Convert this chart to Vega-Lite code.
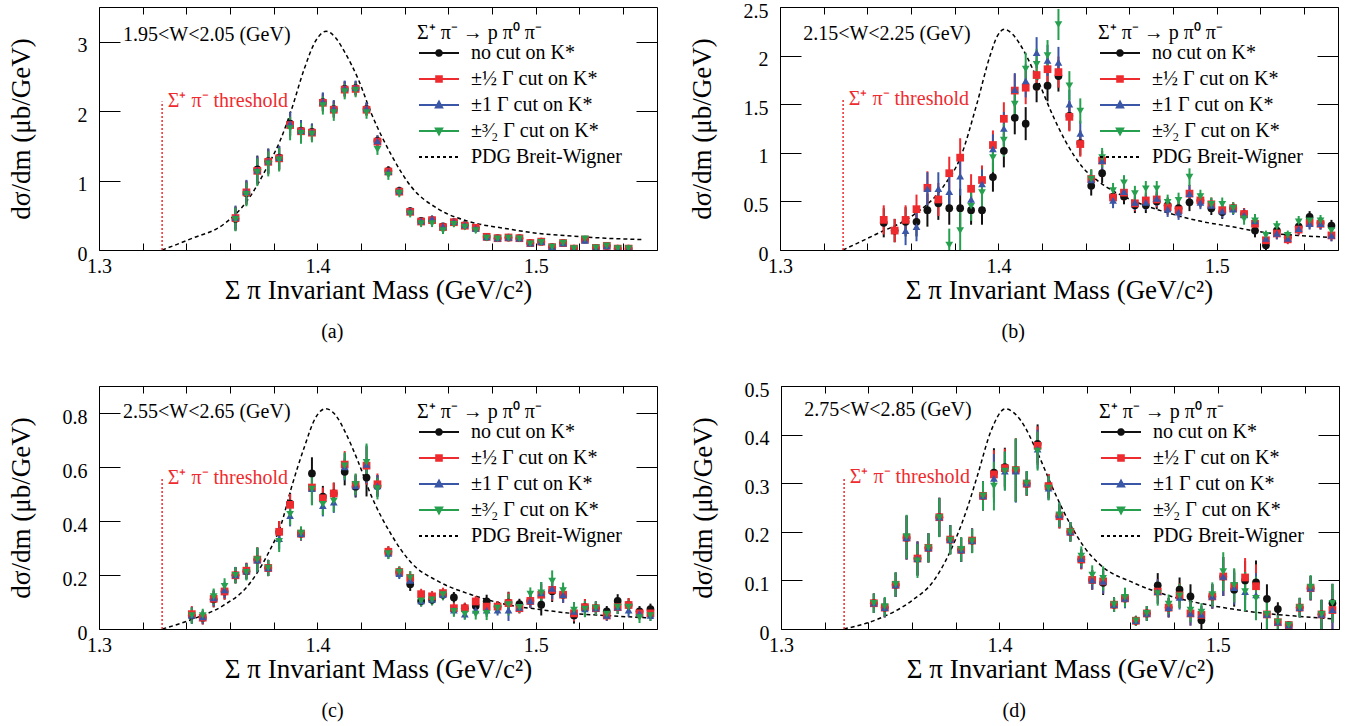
{
  "$schema": "https://vega.github.io/schema/vega-lite/v6.json",
  "background": "white",
  "padding": {"left": 6, "top": 0, "right": 5, "bottom": 5},
  "config": {
    "font": "Liberation Serif",
    "view": {"stroke": "#000", "strokeWidth": 1},
    "axis": {
      "grid": false, "domain": false,
      "labelFont": "Liberation Serif", "titleFont": "Liberation Serif",
      "labelFontSize": 20, "titleFontSize": 27, "titleFontWeight": "normal",
      "labelColor": "#000", "titleColor": "#000", "tickColor": "#000", "tickWidth": 1,
      "labelFlush": false, "labelOverlap": false
    },
    "legend": {
      "orient": "none", "legendX": 318, "legendY": 16, "padding": 0,
      "titleFont": "Liberation Serif", "labelFont": "Liberation Serif",
      "titleFontSize": 20, "labelFontSize": 20, "titleFontWeight": "normal",
      "titleColor": "#000", "labelColor": "#000",
      "symbolSize": 256, "symbolStrokeWidth": 2, "labelOffset": 34, "rowPadding": 6, "titlePadding": 0
    },
    "title": {"font": "Liberation Serif", "fontSize": 20, "fontWeight": "normal", "color": "#000"}
  },
  "datasets": {
    "pts": [
      {"p":"a","m":1.3625,"n":0.45,"h":0.46,"o":0.47,"t":0.44,"e":0.17},
      {"p":"a","m":1.3675,"n":0.82,"h":0.83,"o":0.84,"t":0.80,"e":0.17},
      {"p":"a","m":1.3725,"n":1.16,"h":1.14,"o":1.15,"t":1.12,"e":0.2},
      {"p":"a","m":1.3775,"n":1.28,"h":1.27,"o":1.28,"t":1.24,"e":0.18},
      {"p":"a","m":1.3825,"n":1.33,"h":1.32,"o":1.33,"t":1.30,"e":0.17},
      {"p":"a","m":1.3875,"n":1.82,"h":1.80,"o":1.82,"t":1.75,"e":0.17},
      {"p":"a","m":1.3925,"n":1.72,"h":1.71,"o":1.72,"t":1.68,"e":0.15},
      {"p":"a","m":1.3975,"n":1.70,"h":1.69,"o":1.70,"t":1.67,"e":0.12},
      {"p":"a","m":1.4025,"n":2.13,"h":2.12,"o":2.14,"t":2.08,"e":0.13},
      {"p":"a","m":1.4075,"n":2.03,"h":2.02,"o":2.04,"t":1.98,"e":0.12},
      {"p":"a","m":1.4125,"n":2.32,"h":2.31,"o":2.33,"t":2.28,"e":0.11},
      {"p":"a","m":1.4175,"n":2.33,"h":2.32,"o":2.34,"t":2.30,"e":0.1},
      {"p":"a","m":1.4225,"n":2.03,"h":2.02,"o":2.04,"t":1.98,"e":0.09},
      {"p":"a","m":1.4275,"n":1.57,"h":1.56,"o":1.57,"t":1.45,"e":0.08},
      {"p":"a","m":1.4325,"n":1.14,"h":1.13,"o":1.13,"t":1.08,"e":0.07},
      {"p":"a","m":1.4375,"n":0.85,"h":0.84,"o":0.85,"t":0.82,"e":0.06},
      {"p":"a","m":1.4425,"n":0.56,"h":0.55,"o":0.56,"t":0.52,"e":0.05},
      {"p":"a","m":1.4475,"n":0.42,"h":0.41,"o":0.42,"t":0.38,"e":0.05},
      {"p":"a","m":1.4525,"n":0.43,"h":0.43,"o":0.45,"t":0.38,"e":0.05},
      {"p":"a","m":1.4575,"n":0.34,"h":0.33,"o":0.34,"t":0.28,"e":0.05},
      {"p":"a","m":1.4625,"n":0.40,"h":0.40,"o":0.41,"t":0.37,"e":0.04},
      {"p":"a","m":1.4675,"n":0.36,"h":0.35,"o":0.36,"t":0.33,"e":0.04},
      {"p":"a","m":1.4725,"n":0.32,"h":0.32,"o":0.31,"t":0.28,"e":0.04},
      {"p":"a","m":1.4775,"n":0.19,"h":0.19,"o":0.19,"t":0.17,"e":0.03},
      {"p":"a","m":1.4825,"n":0.17,"h":0.17,"o":0.17,"t":0.16,"e":0.03},
      {"p":"a","m":1.4875,"n":0.18,"h":0.18,"o":0.18,"t":0.17,"e":0.03},
      {"p":"a","m":1.4925,"n":0.17,"h":0.17,"o":0.17,"t":0.16,"e":0.03},
      {"p":"a","m":1.4975,"n":0.10,"h":0.10,"o":0.10,"t":0.09,"e":0.03},
      {"p":"a","m":1.5025,"n":0.12,"h":0.12,"o":0.12,"t":0.11,"e":0.03},
      {"p":"a","m":1.5075,"n":0.04,"h":0.04,"o":0.05,"t":0.04,"e":0.02},
      {"p":"a","m":1.5125,"n":0.10,"h":0.10,"o":0.10,"t":0.10,"e":0.02},
      {"p":"a","m":1.5175,"n":0.02,"h":0.02,"o":0.02,"t":0.02,"e":0.02},
      {"p":"a","m":1.5225,"n":0.15,"h":0.15,"o":0.14,"t":0.16,"e":0.03},
      {"p":"a","m":1.5275,"n":0.03,"h":0.03,"o":0.03,"t":0.03,"e":0.02},
      {"p":"a","m":1.5325,"n":0.06,"h":0.06,"o":0.06,"t":0.06,"e":0.02},
      {"p":"a","m":1.5375,"n":0.02,"h":0.02,"o":0.02,"t":0.02,"e":0.02},
      {"p":"a","m":1.5425,"n":0.02,"h":0.02,"o":0.02,"t":0.02,"e":0.02},

      {"p":"b","m":1.3475,"n":0.28,"h":0.31,"o":null,"t":null,"e":0.15},
      {"p":"b","m":1.3525,"n":0.20,"h":0.20,"o":null,"t":null,"e":0.12},
      {"p":"b","m":1.3575,"n":0.29,"h":0.31,"o":0.20,"t":null,"e":0.15},
      {"p":"b","m":1.3625,"n":0.29,"h":0.42,"o":0.24,"t":null,"e":0.15},
      {"p":"b","m":1.3675,"n":0.41,"h":0.64,"o":0.63,"t":null,"e":0.17},
      {"p":"b","m":1.3725,"n":0.48,"h":0.52,"o":0.63,"t":null,"e":0.17},
      {"p":"b","m":1.3775,"n":0.43,"h":0.79,"o":0.60,"t":0.05,"e":0.17},
      {"p":"b","m":1.3825,"n":0.43,"h":0.95,"o":0.76,"t":0.20,"e":0.2},
      {"p":"b","m":1.3875,"n":0.41,"h":0.63,"o":0.52,"t":0.45,"e":0.15},
      {"p":"b","m":1.3925,"n":0.41,"h":0.72,"o":0.68,"t":0.59,"e":0.15},
      {"p":"b","m":1.3975,"n":0.75,"h":1.08,"o":1.04,"t":0.95,"e":0.15},
      {"p":"b","m":1.4025,"n":1.02,"h":1.35,"o":1.25,"t":1.13,"e":0.17},
      {"p":"b","m":1.4075,"n":1.36,"h":1.64,"o":1.65,"t":1.50,"e":0.17},
      {"p":"b","m":1.4125,"n":1.30,"h":1.67,"o":1.74,"t":1.86,"e":0.17},
      {"p":"b","m":1.4175,"n":1.68,"h":1.80,"o":2.03,"t":1.91,"e":0.16},
      {"p":"b","m":1.4225,"n":1.69,"h":1.86,"o":1.95,"t":2.00,"e":0.16},
      {"p":"b","m":1.4275,"n":1.79,"h":1.83,"o":1.93,"t":2.32,"e":0.16},
      {"p":"b","m":1.4325,"n":1.38,"h":1.37,"o":1.50,"t":1.69,"e":0.15},
      {"p":"b","m":1.4375,"n":1.10,"h":1.09,"o":1.20,"t":1.43,"e":0.13},
      {"p":"b","m":1.4425,"n":0.66,"h":0.73,"o":0.72,"t":0.73,"e":0.1},
      {"p":"b","m":1.4475,"n":0.79,"h":0.92,"o":0.92,"t":0.95,"e":0.1},
      {"p":"b","m":1.4525,"n":0.55,"h":0.54,"o":0.51,"t":0.61,"e":0.08},
      {"p":"b","m":1.4575,"n":0.55,"h":0.59,"o":0.60,"t":0.69,"e":0.08},
      {"p":"b","m":1.4625,"n":0.46,"h":0.48,"o":0.49,"t":0.58,"e":0.08},
      {"p":"b","m":1.4675,"n":0.46,"h":0.51,"o":0.49,"t":0.63,"e":0.08},
      {"p":"b","m":1.4725,"n":0.50,"h":0.52,"o":0.53,"t":0.63,"e":0.08},
      {"p":"b","m":1.4775,"n":0.46,"h":0.44,"o":0.42,"t":0.49,"e":0.08},
      {"p":"b","m":1.4825,"n":0.43,"h":0.41,"o":0.39,"t":0.51,"e":0.08},
      {"p":"b","m":1.4875,"n":0.49,"h":0.58,"o":0.58,"t":0.75,"e":0.09},
      {"p":"b","m":1.4925,"n":0.51,"h":0.51,"o":0.49,"t":0.55,"e":0.07},
      {"p":"b","m":1.4975,"n":0.43,"h":0.47,"o":0.46,"t":0.47,"e":0.07},
      {"p":"b","m":1.5025,"n":0.39,"h":0.41,"o":0.40,"t":0.47,"e":0.07},
      {"p":"b","m":1.5075,"n":0.43,"h":0.43,"o":0.42,"t":0.43,"e":0.06},
      {"p":"b","m":1.5125,"n":0.37,"h":0.37,"o":0.36,"t":0.32,"e":0.06},
      {"p":"b","m":1.5175,"n":0.20,"h":0.27,"o":0.30,"t":0.30,"e":0.07},
      {"p":"b","m":1.5225,"n":0.05,"h":0.10,"o":0.12,"t":0.15,"e":0.05},
      {"p":"b","m":1.5275,"n":0.20,"h":0.17,"o":0.17,"t":0.24,"e":0.06},
      {"p":"b","m":1.5325,"n":0.13,"h":0.11,"o":0.12,"t":0.15,"e":0.05},
      {"p":"b","m":1.5375,"n":0.24,"h":0.21,"o":0.22,"t":0.29,"e":0.06},
      {"p":"b","m":1.5425,"n":0.34,"h":0.28,"o":0.27,"t":0.30,"e":0.06},
      {"p":"b","m":1.5475,"n":0.28,"h":0.27,"o":0.27,"t":0.30,"e":0.06},
      {"p":"b","m":1.5525,"n":0.25,"h":0.15,"o":0.15,"t":0.20,"e":0.06},

      {"p":"c","m":1.3425,"n":0.050,"h":0.055,"o":0.050,"t":0.050,"e":0.03},
      {"p":"c","m":1.3475,"n":0.042,"h":0.042,"o":0.045,"t":0.050,"e":0.025},
      {"p":"c","m":1.3525,"n":0.110,"h":0.112,"o":0.115,"t":0.120,"e":0.03},
      {"p":"c","m":1.3575,"n":0.139,"h":0.139,"o":0.145,"t":0.158,"e":0.03},
      {"p":"c","m":1.3625,"n":0.199,"h":0.199,"o":0.200,"t":0.199,"e":0.03},
      {"p":"c","m":1.3675,"n":0.214,"h":0.216,"o":0.214,"t":0.210,"e":0.03},
      {"p":"c","m":1.3725,"n":0.257,"h":0.257,"o":0.255,"t":0.257,"e":0.045},
      {"p":"c","m":1.3775,"n":0.226,"h":0.226,"o":0.226,"t":0.226,"e":0.03},
      {"p":"c","m":1.3825,"n":0.360,"h":0.360,"o":0.335,"t":0.325,"e":0.04},
      {"p":"c","m":1.3875,"n":0.464,"h":0.460,"o":0.420,"t":0.425,"e":0.04},
      {"p":"c","m":1.3925,"n":0.353,"h":0.353,"o":0.353,"t":0.355,"e":0.025},
      {"p":"c","m":1.3975,"n":0.576,"h":0.524,"o":0.520,"t":0.518,"e":0.06},
      {"p":"c","m":1.4025,"n":0.490,"h":0.484,"o":0.457,"t":0.462,"e":0.04},
      {"p":"c","m":1.4075,"n":0.502,"h":0.502,"o":0.470,"t":0.474,"e":0.04},
      {"p":"c","m":1.4125,"n":0.582,"h":0.609,"o":0.600,"t":0.604,"e":0.05},
      {"p":"c","m":1.4175,"n":0.527,"h":0.534,"o":0.530,"t":0.536,"e":0.04},
      {"p":"c","m":1.4225,"n":0.561,"h":0.605,"o":0.610,"t":0.617,"e":0.07},
      {"p":"c","m":1.4275,"n":0.530,"h":0.536,"o":0.530,"t":0.520,"e":0.04},
      {"p":"c","m":1.4325,"n":0.286,"h":0.286,"o":0.280,"t":0.279,"e":0.02},
      {"p":"c","m":1.4375,"n":0.211,"h":0.211,"o":0.205,"t":0.211,"e":0.02},
      {"p":"c","m":1.4425,"n":0.166,"h":0.189,"o":0.180,"t":0.189,"e":0.025},
      {"p":"c","m":1.4475,"n":0.104,"h":0.129,"o":0.104,"t":0.104,"e":0.02},
      {"p":"c","m":1.4525,"n":0.108,"h":0.121,"o":0.110,"t":0.108,"e":0.02},
      {"p":"c","m":1.4575,"n":0.127,"h":0.133,"o":0.127,"t":0.127,"e":0.02},
      {"p":"c","m":1.4625,"n":0.117,"h":0.077,"o":0.070,"t":0.065,"e":0.02},
      {"p":"c","m":1.4675,"n":0.077,"h":0.077,"o":0.055,"t":0.055,"e":0.02},
      {"p":"c","m":1.4725,"n":0.085,"h":0.102,"o":0.070,"t":0.055,"e":0.02},
      {"p":"c","m":1.4775,"n":0.102,"h":0.083,"o":0.070,"t":0.058,"e":0.025},
      {"p":"c","m":1.4825,"n":0.083,"h":0.083,"o":0.070,"t":0.077,"e":0.02},
      {"p":"c","m":1.4875,"n":0.098,"h":0.096,"o":0.070,"t":0.090,"e":0.04},
      {"p":"c","m":1.4925,"n":0.092,"h":0.077,"o":0.080,"t":0.080,"e":0.02},
      {"p":"c","m":1.4975,"n":0.104,"h":0.104,"o":0.104,"t":0.129,"e":0.025},
      {"p":"c","m":1.5025,"n":0.090,"h":0.127,"o":0.134,"t":0.134,"e":0.04},
      {"p":"c","m":1.5075,"n":0.140,"h":0.145,"o":0.150,"t":0.177,"e":0.04},
      {"p":"c","m":1.5125,"n":0.127,"h":0.127,"o":0.127,"t":0.142,"e":0.03},
      {"p":"c","m":1.5175,"n":0.050,"h":0.058,"o":0.065,"t":0.070,"e":0.03},
      {"p":"c","m":1.5225,"n":0.081,"h":0.081,"o":0.074,"t":0.074,"e":0.03},
      {"p":"c","m":1.5275,"n":0.077,"h":0.077,"o":0.077,"t":0.077,"e":0.025},
      {"p":"c","m":1.5325,"n":0.065,"h":0.050,"o":0.050,"t":0.055,"e":0.02},
      {"p":"c","m":1.5375,"n":0.104,"h":0.081,"o":0.081,"t":0.081,"e":0.025},
      {"p":"c","m":1.5425,"n":0.089,"h":0.089,"o":0.070,"t":0.081,"e":0.025},
      {"p":"c","m":1.5475,"n":0.065,"h":0.058,"o":0.058,"t":0.042,"e":0.02},
      {"p":"c","m":1.5525,"n":0.074,"h":0.058,"o":0.050,"t":0.050,"e":0.02},

      {"p":"d","m":1.3425,"n":0.053,"h":0.053,"o":0.053,"t":0.053,"e":0.02},
      {"p":"d","m":1.3475,"n":0.044,"h":0.044,"o":0.044,"t":0.046,"e":0.02},
      {"p":"d","m":1.3525,"n":0.091,"h":0.091,"o":0.091,"t":0.092,"e":0.025},
      {"p":"d","m":1.3575,"n":0.188,"h":0.188,"o":0.188,"t":0.190,"e":0.045},
      {"p":"d","m":1.3625,"n":0.145,"h":0.145,"o":0.145,"t":0.140,"e":0.035},
      {"p":"d","m":1.3675,"n":0.167,"h":0.167,"o":0.167,"t":0.167,"e":0.03},
      {"p":"d","m":1.3725,"n":0.230,"h":0.230,"o":0.230,"t":0.229,"e":0.04},
      {"p":"d","m":1.3775,"n":0.184,"h":0.184,"o":0.184,"t":0.183,"e":0.03},
      {"p":"d","m":1.3825,"n":0.163,"h":0.163,"o":0.163,"t":0.164,"e":0.025},
      {"p":"d","m":1.3875,"n":0.182,"h":0.182,"o":0.182,"t":0.181,"e":0.025},
      {"p":"d","m":1.3925,"n":0.274,"h":0.274,"o":0.274,"t":0.274,"e":0.03},
      {"p":"d","m":1.3975,"n":0.322,"h":0.318,"o":0.310,"t":0.294,"e":0.05},
      {"p":"d","m":1.4025,"n":0.333,"h":0.331,"o":0.325,"t":0.325,"e":0.04},
      {"p":"d","m":1.4075,"n":0.327,"h":0.327,"o":0.325,"t":0.327,"e":0.065},
      {"p":"d","m":1.4125,"n":0.299,"h":0.299,"o":0.300,"t":0.300,"e":0.025},
      {"p":"d","m":1.4175,"n":0.381,"h":0.377,"o":0.370,"t":0.366,"e":0.04},
      {"p":"d","m":1.4225,"n":0.294,"h":0.294,"o":0.290,"t":0.290,"e":0.025},
      {"p":"d","m":1.4275,"n":0.232,"h":0.232,"o":0.235,"t":0.235,"e":0.025},
      {"p":"d","m":1.4325,"n":0.200,"h":0.200,"o":0.200,"t":0.200,"e":0.02},
      {"p":"d","m":1.4375,"n":0.143,"h":0.143,"o":0.145,"t":0.150,"e":0.02},
      {"p":"d","m":1.4425,"n":0.101,"h":0.101,"o":0.101,"t":0.111,"e":0.02},
      {"p":"d","m":1.4475,"n":0.095,"h":0.098,"o":0.098,"t":0.104,"e":0.025},
      {"p":"d","m":1.4525,"n":0.050,"h":0.050,"o":0.050,"t":0.050,"e":0.015},
      {"p":"d","m":1.4575,"n":0.063,"h":0.063,"o":0.063,"t":0.065,"e":0.02},
      {"p":"d","m":1.4625,"n":0.017,"h":0.017,"o":0.017,"t":0.017,"e":0.01},
      {"p":"d","m":1.4675,"n":0.032,"h":0.032,"o":0.032,"t":0.032,"e":0.015},
      {"p":"d","m":1.4725,"n":0.090,"h":0.077,"o":0.077,"t":0.073,"e":0.025},
      {"p":"d","m":1.4775,"n":0.044,"h":0.044,"o":0.044,"t":0.051,"e":0.02},
      {"p":"d","m":1.4825,"n":0.081,"h":0.069,"o":0.065,"t":0.068,"e":0.025},
      {"p":"d","m":1.4875,"n":0.067,"h":0.032,"o":0.032,"t":0.039,"e":0.025},
      {"p":"d","m":1.4925,"n":0.018,"h":0.029,"o":0.030,"t":0.035,"e":0.018},
      {"p":"d","m":1.4975,"n":0.067,"h":0.067,"o":0.067,"t":0.071,"e":0.025},
      {"p":"d","m":1.5025,"n":0.108,"h":0.108,"o":0.108,"t":0.118,"e":0.04},
      {"p":"d","m":1.5075,"n":0.081,"h":0.088,"o":0.085,"t":0.090,"e":0.035},
      {"p":"d","m":1.5125,"n":0.100,"h":0.106,"o":0.077,"t":0.077,"e":0.04},
      {"p":"d","m":1.5175,"n":0.096,"h":0.088,"o":0.070,"t":0.063,"e":0.045},
      {"p":"d","m":1.5225,"n":0.062,"h":0.030,"o":0.030,"t":0.030,"e":0.03},
      {"p":"d","m":1.5275,"n":0.041,"h":0.014,"o":0.014,"t":0.014,"e":0.014},
      {"p":"d","m":1.5325,"n":0.008,"h":0.008,"o":0.008,"t":0.008,"e":0.008},
      {"p":"d","m":1.5375,"n":0.044,"h":0.044,"o":0.044,"t":0.044,"e":0.02},
      {"p":"d","m":1.5425,"n":0.084,"h":0.084,"o":0.084,"t":0.086,"e":0.025},
      {"p":"d","m":1.5475,"n":0.030,"h":0.030,"o":0.030,"t":0.030,"e":0.03},
      {"p":"d","m":1.5525,"n":0.053,"h":0.039,"o":0.040,"t":0.053,"e":0.04}
    ],
    "bw": [
      {"p":"a","m":1.3289,"v":0},{"p":"a","m":1.342,"v":0.16},{"p":"a","m":1.3575,"v":0.38},
      {"p":"a","m":1.3674,"v":0.69},{"p":"a","m":1.3774,"v":1.22},{"p":"a","m":1.383,"v":1.58},
      {"p":"a","m":1.388,"v":2.01},{"p":"a","m":1.394,"v":2.61},{"p":"a","m":1.399,"v":3.0},
      {"p":"a","m":1.404,"v":3.15},{"p":"a","m":1.4085,"v":3.05},{"p":"a","m":1.4125,"v":2.85},
      {"p":"a","m":1.4187,"v":2.46},{"p":"a","m":1.4248,"v":1.96},{"p":"a","m":1.434,"v":1.36},
      {"p":"a","m":1.443,"v":0.91},{"p":"a","m":1.4554,"v":0.59},{"p":"a","m":1.4706,"v":0.40},
      {"p":"a","m":1.486,"v":0.31},{"p":"a","m":1.501,"v":0.24},{"p":"a","m":1.5165,"v":0.20},
      {"p":"a","m":1.532,"v":0.17},{"p":"a","m":1.5486,"v":0.15},

      {"p":"b","m":1.3288,"v":0},{"p":"b","m":1.3447,"v":0.17},{"p":"b","m":1.3598,"v":0.34},
      {"p":"b","m":1.375,"v":0.66},{"p":"b","m":1.3826,"v":0.95},{"p":"b","m":1.3901,"v":1.50},
      {"p":"b","m":1.3962,"v":2.00},{"p":"b","m":1.3995,"v":2.20},{"p":"b","m":1.4027,"v":2.27},
      {"p":"b","m":1.4065,"v":2.22},{"p":"b","m":1.4098,"v":2.12},{"p":"b","m":1.4174,"v":1.78},
      {"p":"b","m":1.425,"v":1.38},{"p":"b","m":1.4307,"v":1.12},{"p":"b","m":1.4386,"v":0.85},
      {"p":"b","m":1.4462,"v":0.70},{"p":"b","m":1.4614,"v":0.51},{"p":"b","m":1.4765,"v":0.39},
      {"p":"b","m":1.4917,"v":0.30},{"p":"b","m":1.5068,"v":0.24},{"p":"b","m":1.522,"v":0.18},
      {"p":"b","m":1.5371,"v":0.15},{"p":"b","m":1.5523,"v":0.13},

      {"p":"c","m":1.329,"v":0},{"p":"c","m":1.342,"v":0.034},{"p":"c","m":1.3573,"v":0.089},
      {"p":"c","m":1.3673,"v":0.152},{"p":"c","m":1.3772,"v":0.276},{"p":"c","m":1.3834,"v":0.387},
      {"p":"c","m":1.3879,"v":0.518},{"p":"c","m":1.394,"v":0.673},{"p":"c","m":1.399,"v":0.78},
      {"p":"c","m":1.4037,"v":0.816},{"p":"c","m":1.4085,"v":0.79},{"p":"c","m":1.4124,"v":0.735},
      {"p":"c","m":1.4185,"v":0.623},{"p":"c","m":1.4246,"v":0.495},{"p":"c","m":1.4338,"v":0.35},
      {"p":"c","m":1.443,"v":0.245},{"p":"c","m":1.4552,"v":0.177},{"p":"c","m":1.4705,"v":0.127},
      {"p":"c","m":1.4858,"v":0.092},{"p":"c","m":1.501,"v":0.073},{"p":"c","m":1.5164,"v":0.058},
      {"p":"c","m":1.5317,"v":0.05},{"p":"c","m":1.5546,"v":0.04},

      {"p":"d","m":1.3288,"v":0},{"p":"d","m":1.3447,"v":0.021},{"p":"d","m":1.3598,"v":0.058},
      {"p":"d","m":1.3697,"v":0.098},{"p":"d","m":1.3796,"v":0.181},{"p":"d","m":1.3856,"v":0.253},
      {"p":"d","m":1.3901,"v":0.318},{"p":"d","m":1.3962,"v":0.408},{"p":"d","m":1.4027,"v":0.453},
      {"p":"d","m":1.4098,"v":0.429},{"p":"d","m":1.4174,"v":0.363},{"p":"d","m":1.425,"v":0.284},
      {"p":"d","m":1.4325,"v":0.215},{"p":"d","m":1.4386,"v":0.17},{"p":"d","m":1.4462,"v":0.132},
      {"p":"d","m":1.4614,"v":0.095},{"p":"d","m":1.4765,"v":0.070},{"p":"d","m":1.4917,"v":0.053},
      {"p":"d","m":1.5068,"v":0.041},{"p":"d","m":1.522,"v":0.032},{"p":"d","m":1.5371,"v":0.026},
      {"p":"d","m":1.5523,"v":0.021}
    ]
  },
  "spacing": 36,
  "resolve": {"scale": {"color": "independent", "shape": "independent"}, "legend": {"color": "independent"}},
  "vconcat": [
    {
      "spacing": 29,
      "resolve": {"scale": {"color": "independent", "shape": "independent"}, "legend": {"color": "independent"}},
      "hconcat": [
        {
          "width": 558, "height": 243,
          "title": {"text": "(a)", "orient": "bottom", "anchor": "middle", "frame": "bounds", "offset": 19},
          "resolve": {"axis": {"x": "independent", "y": "independent"}},
          "layer": [
            {
              "data": {"name": "bw"},
              "transform": [{"filter": "datum.p == 'a'"}],
              "mark": {"type": "line", "strokeDash": [4, 3], "strokeWidth": 1.5, "interpolate": "monotone"},
              "encoding": {
                "x": {"field": "m", "type": "quantitative", "scale": {"domain": [1.3, 1.5555], "nice": false, "zero": false},
                  "axis": {"orient": "bottom", "values": [1.3,1.32,1.34,1.36,1.38,1.4,1.42,1.44,1.46,1.48,1.5,1.52,1.54], "labelExpr": "abs(datum.value * 10 - round(datum.value * 10)) < 0.001 ? format(datum.value, '.1f') : ''", "tickSize": -7, "labelPadding": 13, "title": "Σ π Invariant Mass (GeV/c²)", "titlePadding": 1}},
                "y": {"field": "v", "type": "quantitative", "scale": {"domain": [0, 3.5], "nice": false},
                  "axis": {"orient": "left", "values": [0, 1, 2, 3], "format": "~g", "tickSize": -21, "labelPadding": 33, "labelOffset": 4, "title": "dσ/dm (μb/GeV)", "titleX": -70, "titleBaseline": "alphabetic"}},
                "color": {"datum": "bw", "type": "nominal", "scale": {"domain": ["n","h","o","t","bw"], "range": ["#111111","#ee2b2f","#3a56a6","#26a04e","#000000"]}}
              }
            },
            {
              "data": {"values": [{}]},
              "mark": {"type": "rule", "color": "#ee2b2f", "strokeDash": [2, 2], "strokeWidth": 1.5},
              "encoding": {
                "x": {"datum": 1.3289, "type": "quantitative", "axis": {"orient": "top", "values": [1.3,1.32,1.34,1.36,1.38,1.4,1.42,1.44,1.46,1.48,1.5,1.52,1.54], "labels": false, "tickSize": -7, "title": null, "minExtent": 0, "maxExtent": 0}},
                "y": {"datum": 0, "type": "quantitative", "axis": {"orient": "right", "values": [0, 1, 2, 3], "labels": false, "tickSize": -21, "title": null, "minExtent": 0, "maxExtent": 0}},
                "y2": {"datum": 2.14}
              }
            },
            {
              "data": {"values": [{}]},
              "mark": {"type": "text", "align": "left", "baseline": "middle", "fontSize": 20, "color": "#ee2b2f"},
              "encoding": {
                "x": {"datum": 1.3315, "type": "quantitative", "axis": null},
                "y": {"datum": 2.14, "type": "quantitative", "axis": null},
                "text": {"value": "Σ⁺ π⁻ threshold"}
              }
            },
            {
              "data": {"values": [{}]},
              "mark": {"type": "text", "align": "left", "baseline": "middle", "fontSize": 20, "color": "#000"},
              "encoding": {
                "x": {"datum": 1.311, "type": "quantitative", "axis": null},
                "y": {"datum": 3.09, "type": "quantitative", "axis": null},
                "text": {"value": "1.95<W<2.05 (GeV)"}
              }
            },
            {
              "data": {"name": "pts"},
              "transform": [{"filter": "datum.p == 'a'"}, {"fold": ["n", "h", "o", "t"], "as": ["s", "v"]}, {"filter": "isValid(datum.v)"}],
              "layer": [
                {
                  "mark": {"type": "errorbar", "ticks": false, "thickness": 2, "clip": true},
                  "encoding": {
                    "x": {"field": "m", "type": "quantitative", "axis": null},
                    "y": {"field": "v", "type": "quantitative", "axis": null},
                    "yError": {"field": "e"},
                    "color": {"field": "s", "type": "nominal"}
                  }
                },
                {
                  "mark": {"type": "point", "filled": true, "opacity": 1, "size": 60, "clip": true},
                  "encoding": {
                    "x": {"field": "m", "type": "quantitative", "axis": null},
                    "y": {"field": "v", "type": "quantitative", "axis": null},
                    "shape": {"field": "s", "type": "nominal", "scale": {"domain": ["n","h","o","t"], "range": ["circle","square","triangle-up","triangle-down"]}, "legend": null},
                    "color": {"field": "s", "type": "nominal",
                      "legend": {
                        "title": "Σ⁺ π⁻ → p π⁰ π⁻",
                        "labelExpr": "datum.value == 'n' ? 'no cut on K*' : datum.value == 'h' ? '±½ Γ cut on K*' : datum.value == 'o' ? '±1 Γ cut on K*' : datum.value == 't' ? '±³⁄₂ Γ cut on K*' : 'PDG Breit-Wigner'",
                        "encoding": {"symbols": {
                          "shape": {"value": {"expr": "datum.value == 'n' ? 'M-1,0H4M1.15,0A0.35,0.35,0,1,1,1.85,0A0.35,0.35,0,1,1,1.15,0Z' : datum.value == 'h' ? 'M-1,0H4M1.15,-0.35H1.85V0.35H1.15Z' : datum.value == 'o' ? 'M-1,0H4M1.5,-0.42L1.9,0.32H1.1Z' : datum.value == 't' ? 'M-1,0H4M1.5,0.42L1.9,-0.32H1.1Z' : 'M-1,0H4'"}},
                          "strokeDash": {"value": {"expr": "datum.value == 'bw' ? [3, 3] : [1, 0]"}},
                          "fill": {"value": {"expr": "datum.value == 'n' ? '#111111' : datum.value == 'h' ? '#ee2b2f' : datum.value == 'o' ? '#3a56a6' : datum.value == 't' ? '#26a04e' : 'transparent'"}},
                          "stroke": {"value": {"expr": "datum.value == 'n' ? '#111111' : datum.value == 'h' ? '#ee2b2f' : datum.value == 'o' ? '#3a56a6' : datum.value == 't' ? '#26a04e' : '#000000'"}},
                          "strokeWidth": {"value": 2},
                          "opacity": {"value": 1}
                        }}
                      }}
                  }
                }
              ]
            }
          ]
        },
        {
          "width": 558, "height": 243,
          "title": {"text": "(b)", "orient": "bottom", "anchor": "middle", "frame": "bounds", "offset": 19},
          "resolve": {"axis": {"x": "independent", "y": "independent"}},
          "layer": [
            {
              "data": {"name": "bw"},
              "transform": [{"filter": "datum.p == 'b'"}],
              "mark": {"type": "line", "strokeDash": [4, 3], "strokeWidth": 1.5, "interpolate": "monotone"},
              "encoding": {
                "x": {"field": "m", "type": "quantitative", "scale": {"domain": [1.3, 1.5555], "nice": false, "zero": false},
                  "axis": {"orient": "bottom", "values": [1.3,1.32,1.34,1.36,1.38,1.4,1.42,1.44,1.46,1.48,1.5,1.52,1.54], "labelExpr": "abs(datum.value * 10 - round(datum.value * 10)) < 0.001 ? format(datum.value, '.1f') : ''", "tickSize": -7, "labelPadding": 13, "title": "Σ π Invariant Mass (GeV/c²)", "titlePadding": 1}},
                "y": {"field": "v", "type": "quantitative", "scale": {"domain": [0, 2.5], "nice": false},
                  "axis": {"orient": "left", "values": [0, 0.5, 1, 1.5, 2, 2.5], "format": "~g", "tickSize": -21, "labelPadding": 33, "labelOffset": 4, "title": "dσ/dm (μb/GeV)", "titleX": -70, "titleBaseline": "alphabetic"}},
                "color": {"datum": "bw", "type": "nominal", "scale": {"domain": ["n","h","o","t","bw"], "range": ["#111111","#ee2b2f","#3a56a6","#26a04e","#000000"]}}
              }
            },
            {
              "data": {"values": [{}]},
              "mark": {"type": "rule", "color": "#ee2b2f", "strokeDash": [2, 2], "strokeWidth": 1.5},
              "encoding": {
                "x": {"datum": 1.3289, "type": "quantitative", "axis": {"orient": "top", "values": [1.3,1.32,1.34,1.36,1.38,1.4,1.42,1.44,1.46,1.48,1.5,1.52,1.54], "labels": false, "tickSize": -7, "title": null, "minExtent": 0, "maxExtent": 0}},
                "y": {"datum": 0, "type": "quantitative", "axis": {"orient": "right", "values": [0, 0.5, 1, 1.5, 2, 2.5], "labels": false, "tickSize": -21, "title": null, "minExtent": 0, "maxExtent": 0}},
                "y2": {"datum": 1.55}
              }
            },
            {
              "data": {"values": [{}]},
              "mark": {"type": "text", "align": "left", "baseline": "middle", "fontSize": 20, "color": "#ee2b2f"},
              "encoding": {
                "x": {"datum": 1.3315, "type": "quantitative", "axis": null},
                "y": {"datum": 1.55, "type": "quantitative", "axis": null},
                "text": {"value": "Σ⁺ π⁻ threshold"}
              }
            },
            {
              "data": {"values": [{}]},
              "mark": {"type": "text", "align": "left", "baseline": "middle", "fontSize": 20, "color": "#000"},
              "encoding": {
                "x": {"datum": 1.3106, "type": "quantitative", "axis": null},
                "y": {"datum": 2.22, "type": "quantitative", "axis": null},
                "text": {"value": "2.15<W<2.25 (GeV)"}
              }
            },
            {
              "data": {"name": "pts"},
              "transform": [{"filter": "datum.p == 'b'"}, {"fold": ["n", "h", "o", "t"], "as": ["s", "v"]}, {"filter": "isValid(datum.v)"}],
              "layer": [
                {
                  "mark": {"type": "errorbar", "ticks": false, "thickness": 2, "clip": true},
                  "encoding": {
                    "x": {"field": "m", "type": "quantitative", "axis": null},
                    "y": {"field": "v", "type": "quantitative", "axis": null},
                    "yError": {"field": "e"},
                    "color": {"field": "s", "type": "nominal"}
                  }
                },
                {
                  "mark": {"type": "point", "filled": true, "opacity": 1, "size": 60, "clip": true},
                  "encoding": {
                    "x": {"field": "m", "type": "quantitative", "axis": null},
                    "y": {"field": "v", "type": "quantitative", "axis": null},
                    "shape": {"field": "s", "type": "nominal", "scale": {"domain": ["n","h","o","t"], "range": ["circle","square","triangle-up","triangle-down"]}, "legend": null},
                    "color": {"field": "s", "type": "nominal",
                      "legend": {
                        "title": "Σ⁺ π⁻ → p π⁰ π⁻",
                        "labelExpr": "datum.value == 'n' ? 'no cut on K*' : datum.value == 'h' ? '±½ Γ cut on K*' : datum.value == 'o' ? '±1 Γ cut on K*' : datum.value == 't' ? '±³⁄₂ Γ cut on K*' : 'PDG Breit-Wigner'",
                        "encoding": {"symbols": {
                          "shape": {"value": {"expr": "datum.value == 'n' ? 'M-1,0H4M1.15,0A0.35,0.35,0,1,1,1.85,0A0.35,0.35,0,1,1,1.15,0Z' : datum.value == 'h' ? 'M-1,0H4M1.15,-0.35H1.85V0.35H1.15Z' : datum.value == 'o' ? 'M-1,0H4M1.5,-0.42L1.9,0.32H1.1Z' : datum.value == 't' ? 'M-1,0H4M1.5,0.42L1.9,-0.32H1.1Z' : 'M-1,0H4'"}},
                          "strokeDash": {"value": {"expr": "datum.value == 'bw' ? [3, 3] : [1, 0]"}},
                          "fill": {"value": {"expr": "datum.value == 'n' ? '#111111' : datum.value == 'h' ? '#ee2b2f' : datum.value == 'o' ? '#3a56a6' : datum.value == 't' ? '#26a04e' : 'transparent'"}},
                          "stroke": {"value": {"expr": "datum.value == 'n' ? '#111111' : datum.value == 'h' ? '#ee2b2f' : datum.value == 'o' ? '#3a56a6' : datum.value == 't' ? '#26a04e' : '#000000'"}},
                          "strokeWidth": {"value": 2},
                          "opacity": {"value": 1}
                        }}
                      }}
                  }
                }
              ]
            }
          ]
        }
      ]
    },
    {
      "spacing": 29,
      "resolve": {"scale": {"color": "independent", "shape": "independent"}, "legend": {"color": "independent"}},
      "hconcat": [
        {
          "width": 558, "height": 243,
          "title": {"text": "(c)", "orient": "bottom", "anchor": "middle", "frame": "bounds", "offset": 19},
          "resolve": {"axis": {"x": "independent", "y": "independent"}},
          "layer": [
            {
              "data": {"name": "bw"},
              "transform": [{"filter": "datum.p == 'c'"}],
              "mark": {"type": "line", "strokeDash": [4, 3], "strokeWidth": 1.5, "interpolate": "monotone"},
              "encoding": {
                "x": {"field": "m", "type": "quantitative", "scale": {"domain": [1.3, 1.5555], "nice": false, "zero": false},
                  "axis": {"orient": "bottom", "values": [1.3,1.32,1.34,1.36,1.38,1.4,1.42,1.44,1.46,1.48,1.5,1.52,1.54], "labelExpr": "abs(datum.value * 10 - round(datum.value * 10)) < 0.001 ? format(datum.value, '.1f') : ''", "tickSize": -7, "labelPadding": 13, "title": "Σ π Invariant Mass (GeV/c²)", "titlePadding": 1}},
                "y": {"field": "v", "type": "quantitative", "scale": {"domain": [0, 0.9], "nice": false},
                  "axis": {"orient": "left", "values": [0, 0.2, 0.4, 0.6, 0.8], "format": "~g", "tickSize": -21, "labelPadding": 33, "labelOffset": 4, "title": "dσ/dm (μb/GeV)", "titleX": -70, "titleBaseline": "alphabetic"}},
                "color": {"datum": "bw", "type": "nominal", "scale": {"domain": ["n","h","o","t","bw"], "range": ["#111111","#ee2b2f","#3a56a6","#26a04e","#000000"]}}
              }
            },
            {
              "data": {"values": [{}]},
              "mark": {"type": "rule", "color": "#ee2b2f", "strokeDash": [2, 2], "strokeWidth": 1.5},
              "encoding": {
                "x": {"datum": 1.3289, "type": "quantitative", "axis": {"orient": "top", "values": [1.3,1.32,1.34,1.36,1.38,1.4,1.42,1.44,1.46,1.48,1.5,1.52,1.54], "labels": false, "tickSize": -7, "title": null, "minExtent": 0, "maxExtent": 0}},
                "y": {"datum": 0, "type": "quantitative", "axis": {"orient": "right", "values": [0, 0.2, 0.4, 0.6, 0.8], "labels": false, "tickSize": -21, "title": null, "minExtent": 0, "maxExtent": 0}},
                "y2": {"datum": 0.561}
              }
            },
            {
              "data": {"values": [{}]},
              "mark": {"type": "text", "align": "left", "baseline": "middle", "fontSize": 20, "color": "#ee2b2f"},
              "encoding": {
                "x": {"datum": 1.3315, "type": "quantitative", "axis": null},
                "y": {"datum": 0.561, "type": "quantitative", "axis": null},
                "text": {"value": "Σ⁺ π⁻ threshold"}
              }
            },
            {
              "data": {"values": [{}]},
              "mark": {"type": "text", "align": "left", "baseline": "middle", "fontSize": 20, "color": "#000"},
              "encoding": {
                "x": {"datum": 1.311, "type": "quantitative", "axis": null},
                "y": {"datum": 0.803, "type": "quantitative", "axis": null},
                "text": {"value": "2.55<W<2.65 (GeV)"}
              }
            },
            {
              "data": {"name": "pts"},
              "transform": [{"filter": "datum.p == 'c'"}, {"fold": ["n", "h", "o", "t"], "as": ["s", "v"]}, {"filter": "isValid(datum.v)"}],
              "layer": [
                {
                  "mark": {"type": "errorbar", "ticks": false, "thickness": 2, "clip": true},
                  "encoding": {
                    "x": {"field": "m", "type": "quantitative", "axis": null},
                    "y": {"field": "v", "type": "quantitative", "axis": null},
                    "yError": {"field": "e"},
                    "color": {"field": "s", "type": "nominal"}
                  }
                },
                {
                  "mark": {"type": "point", "filled": true, "opacity": 1, "size": 60, "clip": true},
                  "encoding": {
                    "x": {"field": "m", "type": "quantitative", "axis": null},
                    "y": {"field": "v", "type": "quantitative", "axis": null},
                    "shape": {"field": "s", "type": "nominal", "scale": {"domain": ["n","h","o","t"], "range": ["circle","square","triangle-up","triangle-down"]}, "legend": null},
                    "color": {"field": "s", "type": "nominal",
                      "legend": {
                        "title": "Σ⁺ π⁻ → p π⁰ π⁻",
                        "labelExpr": "datum.value == 'n' ? 'no cut on K*' : datum.value == 'h' ? '±½ Γ cut on K*' : datum.value == 'o' ? '±1 Γ cut on K*' : datum.value == 't' ? '±³⁄₂ Γ cut on K*' : 'PDG Breit-Wigner'",
                        "encoding": {"symbols": {
                          "shape": {"value": {"expr": "datum.value == 'n' ? 'M-1,0H4M1.15,0A0.35,0.35,0,1,1,1.85,0A0.35,0.35,0,1,1,1.15,0Z' : datum.value == 'h' ? 'M-1,0H4M1.15,-0.35H1.85V0.35H1.15Z' : datum.value == 'o' ? 'M-1,0H4M1.5,-0.42L1.9,0.32H1.1Z' : datum.value == 't' ? 'M-1,0H4M1.5,0.42L1.9,-0.32H1.1Z' : 'M-1,0H4'"}},
                          "strokeDash": {"value": {"expr": "datum.value == 'bw' ? [3, 3] : [1, 0]"}},
                          "fill": {"value": {"expr": "datum.value == 'n' ? '#111111' : datum.value == 'h' ? '#ee2b2f' : datum.value == 'o' ? '#3a56a6' : datum.value == 't' ? '#26a04e' : 'transparent'"}},
                          "stroke": {"value": {"expr": "datum.value == 'n' ? '#111111' : datum.value == 'h' ? '#ee2b2f' : datum.value == 'o' ? '#3a56a6' : datum.value == 't' ? '#26a04e' : '#000000'"}},
                          "strokeWidth": {"value": 2},
                          "opacity": {"value": 1}
                        }}
                      }}
                  }
                }
              ]
            }
          ]
        },
        {
          "width": 558, "height": 243,
          "title": {"text": "(d)", "orient": "bottom", "anchor": "middle", "frame": "bounds", "offset": 19},
          "resolve": {"axis": {"x": "independent", "y": "independent"}},
          "layer": [
            {
              "data": {"name": "bw"},
              "transform": [{"filter": "datum.p == 'd'"}],
              "mark": {"type": "line", "strokeDash": [4, 3], "strokeWidth": 1.5, "interpolate": "monotone"},
              "encoding": {
                "x": {"field": "m", "type": "quantitative", "scale": {"domain": [1.3, 1.5555], "nice": false, "zero": false},
                  "axis": {"orient": "bottom", "values": [1.3,1.32,1.34,1.36,1.38,1.4,1.42,1.44,1.46,1.48,1.5,1.52,1.54], "labelExpr": "abs(datum.value * 10 - round(datum.value * 10)) < 0.001 ? format(datum.value, '.1f') : ''", "tickSize": -7, "labelPadding": 13, "title": "Σ π Invariant Mass (GeV/c²)", "titlePadding": 1}},
                "y": {"field": "v", "type": "quantitative", "scale": {"domain": [0, 0.5], "nice": false},
                  "axis": {"orient": "left", "values": [0, 0.1, 0.2, 0.3, 0.4, 0.5], "format": "~g", "tickSize": -21, "labelPadding": 33, "labelOffset": 4, "title": "dσ/dm (μb/GeV)", "titleX": -70, "titleBaseline": "alphabetic"}},
                "color": {"datum": "bw", "type": "nominal", "scale": {"domain": ["n","h","o","t","bw"], "range": ["#111111","#ee2b2f","#3a56a6","#26a04e","#000000"]}}
              }
            },
            {
              "data": {"values": [{}]},
              "mark": {"type": "rule", "color": "#ee2b2f", "strokeDash": [2, 2], "strokeWidth": 1.5},
              "encoding": {
                "x": {"datum": 1.3289, "type": "quantitative", "axis": {"orient": "top", "values": [1.3,1.32,1.34,1.36,1.38,1.4,1.42,1.44,1.46,1.48,1.5,1.52,1.54], "labels": false, "tickSize": -7, "title": null, "minExtent": 0, "maxExtent": 0}},
                "y": {"datum": 0, "type": "quantitative", "axis": {"orient": "right", "values": [0, 0.1, 0.2, 0.3, 0.4, 0.5], "labels": false, "tickSize": -21, "title": null, "minExtent": 0, "maxExtent": 0}},
                "y2": {"datum": 0.312}
              }
            },
            {
              "data": {"values": [{}]},
              "mark": {"type": "text", "align": "left", "baseline": "middle", "fontSize": 20, "color": "#ee2b2f"},
              "encoding": {
                "x": {"datum": 1.3315, "type": "quantitative", "axis": null},
                "y": {"datum": 0.312, "type": "quantitative", "axis": null},
                "text": {"value": "Σ⁺ π⁻ threshold"}
              }
            },
            {
              "data": {"values": [{}]},
              "mark": {"type": "text", "align": "left", "baseline": "middle", "fontSize": 20, "color": "#000"},
              "encoding": {
                "x": {"datum": 1.3106, "type": "quantitative", "axis": null},
                "y": {"datum": 0.45, "type": "quantitative", "axis": null},
                "text": {"value": "2.75<W<2.85 (GeV)"}
              }
            },
            {
              "data": {"name": "pts"},
              "transform": [{"filter": "datum.p == 'd'"}, {"fold": ["n", "h", "o", "t"], "as": ["s", "v"]}, {"filter": "isValid(datum.v)"}],
              "layer": [
                {
                  "mark": {"type": "errorbar", "ticks": false, "thickness": 2, "clip": true},
                  "encoding": {
                    "x": {"field": "m", "type": "quantitative", "axis": null},
                    "y": {"field": "v", "type": "quantitative", "axis": null},
                    "yError": {"field": "e"},
                    "color": {"field": "s", "type": "nominal"}
                  }
                },
                {
                  "mark": {"type": "point", "filled": true, "opacity": 1, "size": 60, "clip": true},
                  "encoding": {
                    "x": {"field": "m", "type": "quantitative", "axis": null},
                    "y": {"field": "v", "type": "quantitative", "axis": null},
                    "shape": {"field": "s", "type": "nominal", "scale": {"domain": ["n","h","o","t"], "range": ["circle","square","triangle-up","triangle-down"]}, "legend": null},
                    "color": {"field": "s", "type": "nominal",
                      "legend": {
                        "title": "Σ⁺ π⁻ → p π⁰ π⁻",
                        "labelExpr": "datum.value == 'n' ? 'no cut on K*' : datum.value == 'h' ? '±½ Γ cut on K*' : datum.value == 'o' ? '±1 Γ cut on K*' : datum.value == 't' ? '±³⁄₂ Γ cut on K*' : 'PDG Breit-Wigner'",
                        "encoding": {"symbols": {
                          "shape": {"value": {"expr": "datum.value == 'n' ? 'M-1,0H4M1.15,0A0.35,0.35,0,1,1,1.85,0A0.35,0.35,0,1,1,1.15,0Z' : datum.value == 'h' ? 'M-1,0H4M1.15,-0.35H1.85V0.35H1.15Z' : datum.value == 'o' ? 'M-1,0H4M1.5,-0.42L1.9,0.32H1.1Z' : datum.value == 't' ? 'M-1,0H4M1.5,0.42L1.9,-0.32H1.1Z' : 'M-1,0H4'"}},
                          "strokeDash": {"value": {"expr": "datum.value == 'bw' ? [3, 3] : [1, 0]"}},
                          "fill": {"value": {"expr": "datum.value == 'n' ? '#111111' : datum.value == 'h' ? '#ee2b2f' : datum.value == 'o' ? '#3a56a6' : datum.value == 't' ? '#26a04e' : 'transparent'"}},
                          "stroke": {"value": {"expr": "datum.value == 'n' ? '#111111' : datum.value == 'h' ? '#ee2b2f' : datum.value == 'o' ? '#3a56a6' : datum.value == 't' ? '#26a04e' : '#000000'"}},
                          "strokeWidth": {"value": 2},
                          "opacity": {"value": 1}
                        }}
                      }}
                  }
                }
              ]
            }
          ]
        }
      ]
    }
  ]
}
